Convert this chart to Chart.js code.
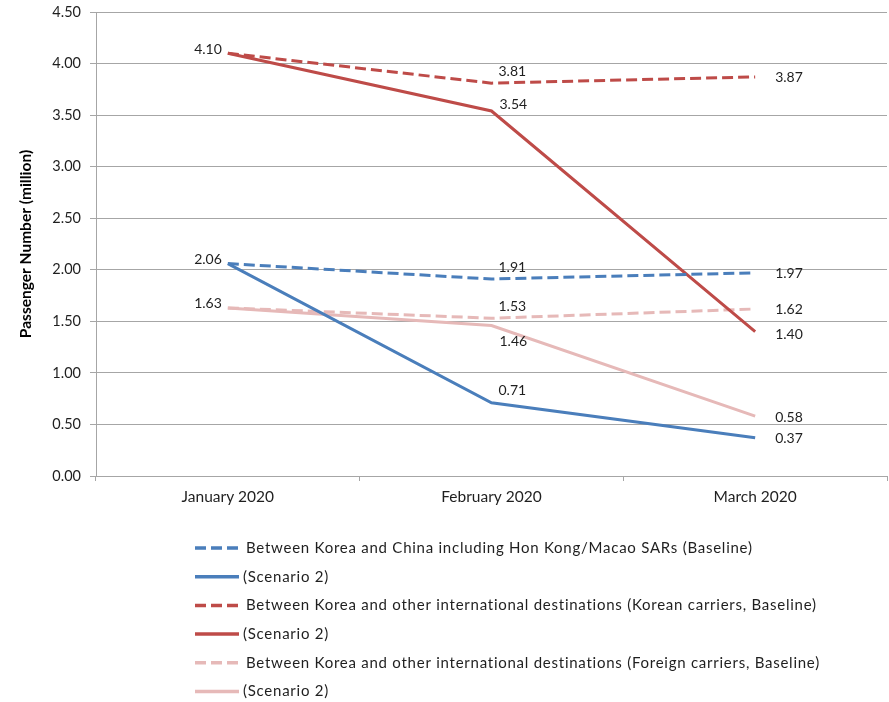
<!DOCTYPE html>
<html>
<head>
<meta charset="utf-8">
<script src="https://cdn.jsdelivr.net/npm/chart.js@4.4.1/dist/chart.umd.min.js"></script>
<style>
html, body { margin: 0; padding: 0; background: #fff; }
</style>
</head>
<body>
<canvas id="paxChart" width="889" height="702"></canvas>
<script>
// values (million passengers)
const months = ['January 2020', 'February 2020', 'March 2020'];
const chinaBaseline = [2.06, 1.91, 1.97];
const chinaScenario2 = [2.06, 0.71, 0.37];
const koreanBaseline = [4.10, 3.81, 3.87];
const koreanScenario2 = [4.10, 3.54, 1.40];
const foreignBaseline = [1.63, 1.53, 1.62];
const foreignScenario2 = [1.63, 1.46, 0.58];
const yMin = 0, yMax = 4.5, yStep = 0.5;

const FONT = 'Lato, "Open Sans", sans-serif';
const BLUE = '#4A7EBB', RED = '#BE4B48', PINK = '#E6B9B8';
const GRID = '#A6A6A6';
const DASH = [11, 5];

// value labels next to the points; ds.labelAt says where (null = none)
const pointLabels = {
  id: 'pointLabels',
  afterDatasetsDraw(chart) {
    const ctx = chart.ctx;
    ctx.save();
    ctx.font = '14px ' + FONT;
    ctx.fillStyle = '#1f1f1f';
    ctx.textBaseline = 'middle';
    chart.data.datasets.forEach((ds, i) => {
      const meta = chart.getDatasetMeta(i);
      meta.data.forEach((pt, j) => {
        const where = ds.labelAt[j];
        if (!where) return;
        const txt = ds.data[j].toFixed(2);
        let x = pt.x, y = pt.y;
        if (where === 'left') { ctx.textAlign = 'right'; x -= 6; y -= 4; }
        else if (where === 'right') { ctx.textAlign = 'left'; x += 20; y += 1; }
        else if (where === 'rightlow') { ctx.textAlign = 'left'; x += 20; y += 3; }
        else if (where === 'above') { ctx.textAlign = 'left'; x += 7; y -= 12; }
        else if (where === 'aboveR') { ctx.textAlign = 'left'; x += 8; y -= 7; }
        else if (where === 'below') { ctx.textAlign = 'left'; x += 8; y += 16; }
        ctx.fillText(txt, x, y);
      });
    });
    ctx.restore();
  }
};

const legendRows = {
  id: 'legendRows',
  afterDraw(chart) {
    const ctx = chart.ctx;
    const x0 = 195, y0 = chart.chartArea.bottom + 72, rowH = 28.7;
    chart.data.datasets.forEach((ds, i) => {
      const y = y0 + i * rowH;
      ctx.save();
      ctx.strokeStyle = ds.borderColor;
      ctx.lineWidth = 3.5;
      ctx.setLineDash(ds.borderDash || []);
      ctx.beginPath();
      ctx.moveTo(x0, y);
      ctx.lineTo(x0 + 44, y);
      ctx.stroke();
      ctx.setLineDash([]);
      ctx.fillStyle = '#1f1f1f';
      ctx.font = '15px ' + FONT;
      ctx.letterSpacing = '0.75px';
      ctx.textBaseline = 'middle';
      ctx.textAlign = 'left';
      ctx.fillText(ds.label, x0 + (ds.borderDash ? 51 : 48), y);
      ctx.restore();
    });
  }
};

function series(label, data, color, dashed, labelAt) {
  return {
    label: label,
    data: data,
    borderColor: color,
    backgroundColor: color,
    borderWidth: 3,
    borderDash: dashed ? DASH : undefined,
    pointRadius: 0,
    tension: 0,
    fill: false,
    labelAt: labelAt
  };
}

new Chart(document.getElementById('paxChart'), {
  type: 'line',
  data: {
    labels: months,
    datasets: [
      series('Between Korea and China including Hon Kong/Macao SARs (Baseline)', chinaBaseline, BLUE, true, ['left', 'above', 'right']),
      series('(Scenario 2)', chinaScenario2, BLUE, false, [null, 'above', 'right']),
      series('Between Korea and other international destinations (Korean carriers, Baseline)', koreanBaseline, RED, true, ['left', 'above', 'right']),
      series('(Scenario 2)', koreanScenario2, RED, false, [null, 'aboveR', 'rightlow']),
      series('Between Korea and other international destinations (Foreign carriers, Baseline)', foreignBaseline, PINK, true, ['left', 'above', 'right']),
      series('(Scenario 2)', foreignScenario2, PINK, false, [null, 'below', 'right'])
    ]
  },
  options: {
    responsive: false,
    animation: false,
    events: [],
    layout: { padding: { top: 12, right: 2, bottom: 190, left: 0 } },
    scales: {
      x: {
        offset: true,
        afterFit: (s) => { s.height = 36; },
        grid: { offset: true, drawOnChartArea: false, drawTicks: true, tickLength: 5, color: GRID },
        border: { color: GRID },
        ticks: { color: '#1f1f1f', font: { family: FONT, size: 15.5 }, padding: 7, maxRotation: 0 }
      },
      y: {
        min: yMin,
        max: yMax,
        afterFit: (s) => { s.width = 96; s.paddingTop = 0; },
        grid: { color: GRID, drawTicks: true, tickLength: 6 },
        border: { color: GRID },
        ticks: {
          stepSize: yStep,
          color: '#1f1f1f',
          font: { family: FONT, size: 14.5 },
          padding: 9,
          callback: (v) => Number(v).toFixed(2)
        },
        title: {
          display: true,
          text: 'Passenger Number (million)',
          color: '#000',
          font: { family: FONT, size: 15.5, weight: 'bold' },
          padding: { top: 17, bottom: 0 }
        }
      }
    },
    plugins: {
      legend: { display: false },
      tooltip: { enabled: false }
    }
  },
  plugins: [pointLabels, legendRows]
});
</script>
</body>
</html>
